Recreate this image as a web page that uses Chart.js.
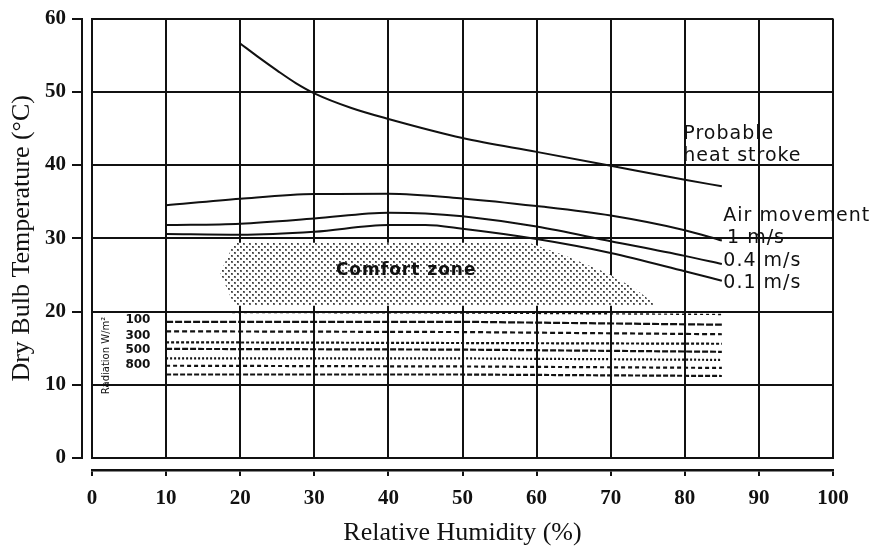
<!DOCTYPE html>
<html><head><meta charset="utf-8">
<script src="https://cdn.jsdelivr.net/npm/chart.js@4.4.0/dist/chart.umd.min.js"></script>
<style>html,body{margin:0;padding:0;background:#fff;}#wrap{width:872px;height:546px;}</style>
</head><body><div id="wrap"><canvas id="c" width="872" height="546"></canvas></div>
<script>
// ---- data ----
const xTickValues = [0,10,20,30,40,50,60,70,80,90,100];
const yTickValues = [0,10,20,30,40,50,60];

const heatX = [20, 22.5, 25, 27.5, 30, 35, 40, 50, 60, 70, 80, 85];
const heatY = [56.6, 54.7, 52.9, 51.2, 49.8, 47.8, 46.3, 43.7, 41.8, 39.9, 38.0, 37.1];

const air1X = [10, 20, 30, 40, 50, 60, 70, 80, 85];
const air1Y = [34.5, 35.4, 36.05, 36.1, 35.45, 34.4, 33.1, 31.1, 29.7];

const air04X = [10, 20, 30, 40, 45, 50, 60, 70, 80, 85];
const air04Y = [31.8, 32.0, 32.7, 33.5, 33.4, 33.0, 31.6, 29.6, 27.6, 26.5];

const air01X = [10, 20, 30, 40, 45, 50, 60, 70, 80, 85];
const air01Y = [30.6, 30.5, 30.9, 31.8, 31.8, 31.3, 29.9, 28.0, 25.5, 24.2];

const comfortX = [19.2, 59, 64, 69.4, 73, 76.3, 19.2, 17.3, 19.2];
const comfortY = [29.4, 29.4, 27.6, 25.3, 23.3, 20.8, 20.8, 25.3, 29.4];

const radX = [10, 50, 85];
const rad0 = [19.9, 19.8, 19.6];
const rad1 = [18.6, 18.6, 18.2];
const rad2 = [17.3, 17.2, 16.9];
const rad3 = [15.8, 15.7, 15.6];
const rad4 = [14.9, 14.8, 14.5];
const rad5 = [13.6, 13.6, 13.4];
const rad6 = [12.6, 12.5, 12.3];
const rad7 = [11.4, 11.4, 11.2];
const radLevels = ['100', '300', '500', '800'];
const radLevelY = [18.8, 16.7, 14.7, 12.65];

// ---- helpers ----
const pts = (xs, ys) => xs.map((v, i) => ({x: v, y: ys[i]}));
const INK = '#111';

function dotPattern() {
  const c = document.createElement('canvas');
  c.width = 6; c.height = 6;
  const g = c.getContext('2d');
  g.fillStyle = '#fff'; g.fillRect(0, 0, 6, 6);
  g.fillStyle = '#6e6e6e';
  g.fillRect(0, 0, 2, 2); g.fillRect(3, 3, 2, 2);
  g.fillStyle = '#3a3a3a';
  g.fillRect(0, 0, 1, 1); g.fillRect(3, 3, 1, 1);
  return g.createPattern(c, 'repeat');
}

const curve = (xs, ys) => ({
  data: pts(xs, ys), showLine: true, borderColor: INK, borderWidth: 2,
  pointRadius: 0, tension: 0.4, cubicInterpolationMode: 'monotone', fill: false, order: 1
});

const radDash = [[3,3],[7,2],[5,3],[3,2],[6,2],[2,2],[4,3],[5,2]];
const radSeries = [rad0, rad1, rad2, rad3, rad4, rad5, rad6, rad7];
const radDatasets = radSeries.map((ys, i) => ({
  data: pts(radX, ys), showLine: true, borderColor: INK, borderWidth: i === 0 ? 1.4 : 2.2,
  borderDash: radDash[i], pointRadius: 0, tension: 0, fill: false, order: 2
}));

const SANS = '"DejaVu Sans", sans-serif';
const textLabels = [
  {text: 'Probable', x: 79.8, y: 44.2, font: '19px ' + SANS, align: 'left', spacing: '1px'},
  {text: 'heat stroke', x: 79.8, y: 41.2, font: '19px ' + SANS, align: 'left', spacing: '1px'},
  {text: 'Air movement', x: 85.2, y: 33.1, font: '19px ' + SANS, align: 'left', spacing: '1px'},
  {text: '1 m/s', x: 85.7, y: 30.0, font: '19px ' + SANS, align: 'left', spacing: '1px'},
  {text: '0.4 m/s', x: 85.2, y: 26.9, font: '19px ' + SANS, align: 'left', spacing: '1px'},
  {text: '0.1 m/s', x: 85.2, y: 23.9, font: '19px ' + SANS, align: 'left', spacing: '1px'},
  {text: 'Comfort zone', x: 42.4, y: 25.6, font: 'bold 17px ' + SANS, align: 'center', spacing: '1px'},
  {text: 'Radiation W/m²', x: 2.0, y: 14.0, font: '10px ' + SANS, align: 'center', rotate: true, spacing: '0px'}
].concat(radLevels.map((t, i) => ({text: t, x: 6.2, y: radLevelY[i], font: 'bold 12px ' + SANS, align: 'center', spacing: '0px'})));

const labelPlugin = {
  id: 'textLabels',
  afterDatasetsDraw(chart) {
    const {ctx} = chart;
    const sx = chart.scales.x, sy = chart.scales.y;
    for (const l of textLabels) {
      ctx.save();
      ctx.font = l.font; ctx.fillStyle = INK; ctx.textAlign = l.align; ctx.textBaseline = 'middle';
      if ('letterSpacing' in ctx) ctx.letterSpacing = l.spacing;
      const px = sx.getPixelForValue(l.x), py = sy.getPixelForValue(l.y);
      ctx.translate(px, py);
      if (l.rotate) ctx.rotate(-Math.PI / 2);
      ctx.fillText(l.text, 0, 0);
      ctx.restore();
    }
  }
};

const SERIF = '"Liberation Serif", "Times New Roman", serif';

new Chart(document.getElementById('c'), {
  type: 'scatter',
  data: {
    datasets: [
      {data: pts(comfortX, comfortY), showLine: true, borderWidth: 0, borderColor: 'rgba(0,0,0,0)',
       backgroundColor: dotPattern(), fill: 'shape', pointRadius: 0, tension: 0, order: 10},
      curve(heatX, heatY),
      curve(air1X, air1Y),
      curve(air04X, air04Y),
      curve(air01X, air01Y),
      ...radDatasets
    ]
  },
  options: {
    responsive: false, animation: false, devicePixelRatio: 1,
    layout: {padding: {top: 17, right: 39, left: 0, bottom: 0}},
    plugins: {legend: {display: false}, tooltip: {enabled: false}},
    scales: {
      x: {
        type: 'linear', position: 'bottom', min: 0, max: 100, weight: 0,
        afterBuildTicks: s => { s.ticks = xTickValues.map(v => ({value: v})); },
        ticks: {display: false},
        grid: {color: INK, lineWidth: 2, drawTicks: false},
        border: {display: true, color: INK, width: 2},
        afterFit: s => { s.height = 12; }
      },
      x2: {
        type: 'linear', position: 'bottom', min: 0, max: 100, weight: 1,
        afterBuildTicks: s => { s.ticks = xTickValues.map(v => ({value: v})); },
        ticks: {color: INK, font: {family: SERIF, size: 21, weight: 'bold'}, padding: 10, maxRotation: 0},
        grid: {drawOnChartArea: false, drawTicks: true, tickLength: 6, color: INK, lineWidth: 2},
        border: {display: true, color: INK, width: 2.5},
        title: {display: true, text: 'Relative Humidity (%)', color: INK,
                font: {family: SERIF, size: 26, lineHeight: 1}, padding: {top: 0, bottom: 0}},
        afterFit: s => { s.height = 76; }
      },
      y: {
        type: 'linear', position: 'left', min: 0, max: 60, weight: 0,
        afterBuildTicks: s => { s.ticks = yTickValues.map(v => ({value: v})); },
        ticks: {display: false},
        grid: {color: INK, lineWidth: 2, drawTicks: false},
        border: {display: true, color: INK, width: 2},
        afterFit: s => { s.width = 10; }
      },
      y2: {
        type: 'linear', position: 'left', min: 0, max: 60, weight: 1,
        afterBuildTicks: s => { s.ticks = yTickValues.map(v => ({value: v})); },
        ticks: {color: INK, font: {family: SERIF, size: 21, weight: 'bold'}, padding: 6},
        grid: {drawOnChartArea: false, drawTicks: true, tickLength: 10, color: INK, lineWidth: 2},
        border: {display: true, color: INK, width: 2},
        title: {display: true, text: 'Dry Bulb Temperature (°C)', color: INK,
                font: {family: SERIF, size: 26, lineHeight: 1}, padding: {top: 9, bottom: 0}},
        afterFit: s => { s.width = 82; }
      }
    }
  },
  plugins: [labelPlugin]
});
</script>
</body></html>
